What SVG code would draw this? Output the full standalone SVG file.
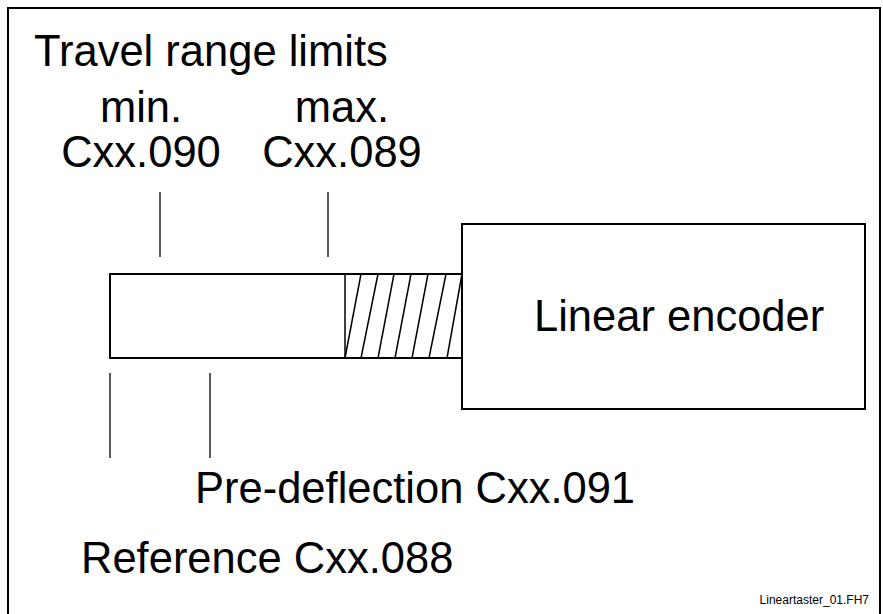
<svg xmlns="http://www.w3.org/2000/svg" width="883" height="614" viewBox="0 0 883 614">
<style>
  text { font-family: "Liberation Sans", Arial, sans-serif; fill: #000; }
  .big { font-size: 43.5px; }
  .small { font-size: 12px; }
  .box { fill: #fff; stroke: #000; stroke-width: 2; }
  .tick { stroke: #000; stroke-width: 1.3; fill: none; }
  .hatch { stroke: #000; stroke-width: 1.5; fill: none; }
</style>
<rect x="0" y="0" width="883" height="614" fill="#fff"/>
<rect id="frame" x="8" y="8" width="872" height="630" fill="none" stroke="#000" stroke-width="2"/>
<text class="big" x="34" y="66">Travel range limits</text>
<g id="label-min">
  <text class="big" x="141" y="122" text-anchor="middle">min.</text>
  <text class="big" x="141" y="167" text-anchor="middle">Cxx.090</text>
</g>
<g id="label-max">
  <text class="big" x="342" y="122" text-anchor="middle">max.</text>
  <text class="big" x="342" y="167" text-anchor="middle">Cxx.089</text>
</g>
<g id="rod">
  <rect class="box" x="110" y="274" width="352" height="84"/>
  <line class="hatch" x1="345" y1="274" x2="345" y2="358"/>
  <line class="hatch" x1="345" y1="358" x2="361" y2="274"/>
  <line class="hatch" x1="361" y1="358" x2="378" y2="274"/>
  <line class="hatch" x1="378" y1="358" x2="394" y2="274"/>
  <line class="hatch" x1="395" y1="358" x2="411" y2="274"/>
  <line class="hatch" x1="412" y1="358" x2="428" y2="274"/>
  <line class="hatch" x1="429" y1="358" x2="446" y2="274"/>
  <line class="hatch" x1="447" y1="358" x2="462" y2="274"/>
</g>
<g id="encoder">
  <rect class="box" x="462" y="224" width="403" height="185"/>
  <text class="big" x="534" y="331">Linear encoder</text>
</g>
<g id="connectors">
  <line class="tick" x1="160" y1="192" x2="160" y2="257"/>
  <line class="tick" x1="328" y1="192" x2="328" y2="257"/>
  <line class="tick" x1="110" y1="373" x2="110" y2="458"/>
  <line class="tick" x1="210" y1="373" x2="210" y2="458"/>
</g>
<g id="label-predeflection">
  <text class="big" x="195" y="503">Pre-deflection Cxx.091</text>
</g>
<g id="label-reference">
  <text class="big" x="81" y="573">Reference Cxx.088</text>
</g>
<text class="small" x="869" y="604" text-anchor="end">Lineartaster_01.FH7</text>
</svg>
